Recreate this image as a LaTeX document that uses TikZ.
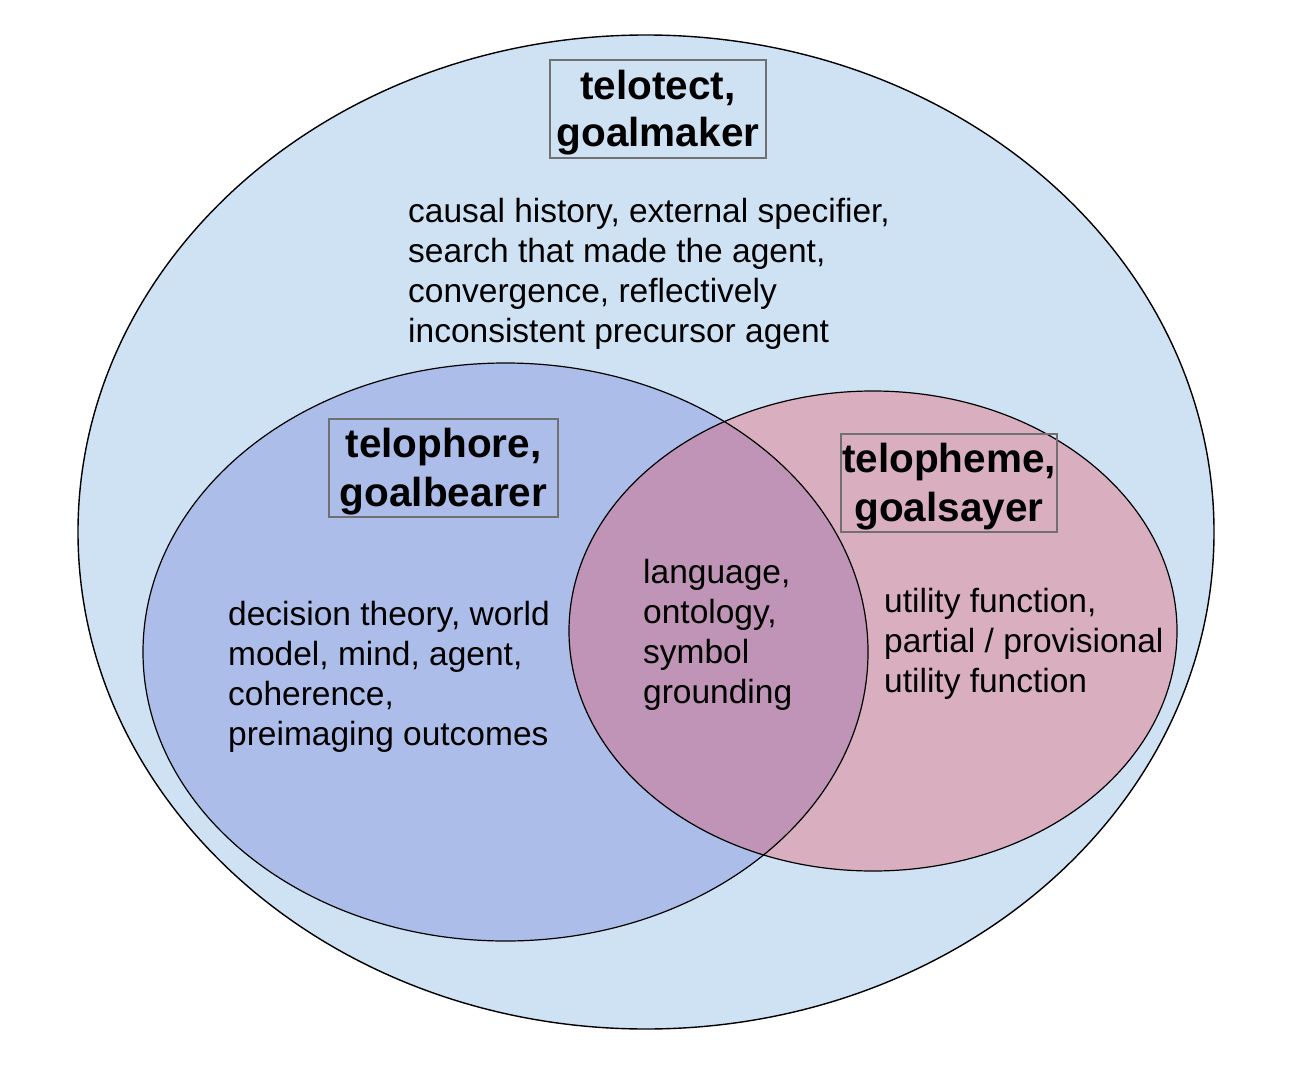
\documentclass[tikz,border=0pt]{standalone}
\usepackage{fontspec}
\setmainfont{Liberation Sans}
\definecolor{outerblue}{HTML}{CFE2F3}
\definecolor{innerblue}{HTML}{ADBDE9}
\definecolor{innerpink}{HTML}{D9AFBF}
\definecolor{overlapc}{HTML}{BF94B6}
\definecolor{boxgray}{HTML}{707070}
\begin{document}
\begin{tikzpicture}[x=1pt,y=-1pt,
  titlebox/.style={draw=boxgray,line width=1.2pt,align=center,inner sep=0pt,minimum height=98pt,
    font=\fontsize{40.5}{48}\selectfont\bfseries},
  bodytext/.style={align=left,anchor=west,inner sep=0pt,font=\fontsize{33.5}{40}\selectfont},
  rim/.style={draw=black,line width=1.4pt}]
\useasboundingbox (0,0) rectangle (1308,1078);
% ellipses
\path[fill=outerblue,rim] (646,532) ellipse [x radius=568,y radius=497];
\path[fill=innerblue] (505.5,652) ellipse [x radius=362.5,y radius=289];
\path[fill=innerpink] (873,631) ellipse [x radius=304,y radius=240];
\begin{scope}
  \clip (505.5,652) ellipse [x radius=362.5,y radius=289];
  \path[fill=overlapc] (873,631) ellipse [x radius=304,y radius=240];
\end{scope}
\path[rim,line width=1.2pt] (505.5,652) ellipse [x radius=362.5,y radius=289];
\path[rim,line width=1.2pt] (873,631) ellipse [x radius=304,y radius=240];
% titles
\node[titlebox,minimum width=216pt] (maker) at (658,109) {};
\node[font=\fontsize{40.5}{47}\selectfont\bfseries,align=center,inner sep=0pt] (makerlabel) at (658,113) {telotect,\\goalmaker};
\node[titlebox,minimum width=229pt] (bearer) at (443.5,468) {};
\node[font=\fontsize{40.5}{49}\selectfont\bfseries,align=center,inner sep=0pt] (bearerlabel) at (443.5,472) {telophore,\\goalbearer};
\node[titlebox,minimum width=216pt] (sayer) at (949,483) {};
\node[font=\fontsize{40.5}{49}\selectfont\bfseries,align=center,inner sep=0pt] (sayerlabel) at (949,487) {telopheme,\\goalsayer};
% texts
\node[bodytext] (makertext) at (408,274) {causal history, external specifier,\\search that made the agent,\\convergence, reflectively\\inconsistent precursor agent};
\node[bodytext] (bearertext) at (228,677) {decision theory, world\\model, mind, agent,\\coherence,\\preimaging outcomes};
\node[bodytext] (sharedtext) at (643,635) {language,\\ontology,\\symbol\\grounding};
\node[bodytext] (sayertext) at (884,644) {utility function,\\partial / provisional\\utility function};
\end{tikzpicture}
\end{document}
